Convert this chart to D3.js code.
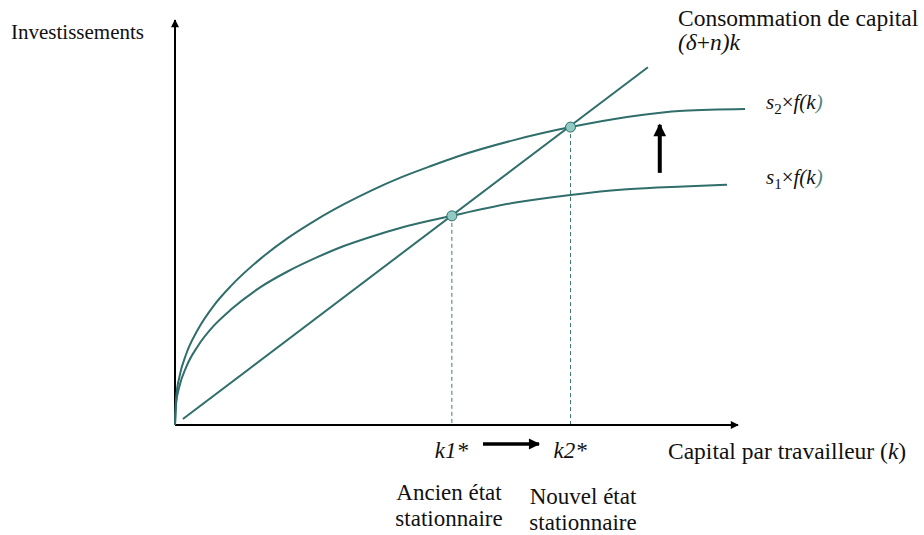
<!DOCTYPE html>
<html>
<head>
<meta charset="utf-8">
<script src="https://cdn.jsdelivr.net/npm/d3@7"></script>
<style>
  body { margin: 0; background: #fff; }
  svg text { font-family: "Liberation Serif", "Times New Roman", serif; fill: #111; }
</style>
</head>
<body>
<svg id="chart" width="924" height="535"></svg>
<script>
// Values (k = capital per worker, abstract units)
const s1K = [0, 0.02, 0.08, 0.2, 0.4, 0.7, 1, 1.5, 2, 2.5, 3, 3.5, 4, 4.9, 6, 7, 8, 9, 9.77];
const s1Values = [0, 0.38, 0.69, 1.03, 1.39, 1.77, 2.05, 2.43, 2.72, 2.96, 3.17, 3.34, 3.49, 3.7, 3.93, 4.07, 4.17, 4.22, 4.25];
const s2K = [0, 0.02, 0.08, 0.2, 0.4, 0.7, 1, 1.5, 2, 2.5, 3, 3.5, 4, 4.5, 5, 6, 7, 8, 9, 10.09];
const s2Values = [0, 0.48, 0.86, 1.26, 1.68, 2.13, 2.47, 2.93, 3.31, 3.63, 3.91, 4.16, 4.38, 4.57, 4.75, 5.04, 5.27, 5.45, 5.56, 5.59];
const lineK = [0.14, 8.37];
const lineY = [0.106, 6.33]; // (delta + n) k
const steadyK = [4.9, 7];
const steadyY = [3.7, 5.27];
const shiftArrow = { k: 8.58, from: 4.46, to: 5.31 };

const teal = '#2f6e6a';
const svg = d3.select('#chart');

const x = d3.scaleLinear().domain([0, 10]).range([175, 740]);
const y = d3.scaleLinear().domain([0, 7.2]).range([425, 18]);

// arrow markers
const defs = svg.append('defs');
defs.append('marker')
  .attr('id', 'axisHead').attr('viewBox', '0 0 10 10')
  .attr('refX', 9).attr('refY', 5)
  .attr('markerWidth', 4.5).attr('markerHeight', 4)
  .attr('markerUnits', 'strokeWidth').attr('orient', 'auto')
  .append('path').attr('d', 'M0,0 L10,5 L0,10 Z').attr('fill', '#000');
defs.append('marker')
  .attr('id', 'bigHead').attr('viewBox', '0 0 10 10')
  .attr('refX', 9).attr('refY', 5)
  .attr('markerWidth', 3.8).attr('markerHeight', 3.2)
  .attr('markerUnits', 'strokeWidth').attr('orient', 'auto')
  .append('path').attr('d', 'M0,0 L10,5 L0,10 Z').attr('fill', '#000');

// dashed drop lines to the axis
svg.selectAll('.drop')
  .data(steadyK)
  .enter()
  .append('line')
  .attr('x1', (d) => x(d)).attr('x2', (d) => x(d))
  .attr('y1', (d, i) => y(steadyY[i])).attr('y2', y(0))
  .attr('stroke', '#3f7773').attr('stroke-width', 1)
  .attr('stroke-dasharray', '4,3');

// axes
svg.append('line')
  .attr('x1', x(0)).attr('y1', y(0)).attr('x2', x(0)).attr('y2', y(7.2) + 2)
  .attr('stroke', '#000').attr('stroke-width', 2)
  .attr('marker-end', 'url(#axisHead)');
svg.append('line')
  .attr('x1', x(0)).attr('y1', y(0)).attr('x2', x(10) - 2).attr('y2', y(0))
  .attr('stroke', '#000').attr('stroke-width', 2)
  .attr('marker-end', 'url(#axisHead)');

// savings curves
const curve = d3.line()
  .x((d) => x(d[0]))
  .y((d) => y(d[1]))
  .curve(d3.curveMonotoneX);

[[s1K, s1Values], [s2K, s2Values]].forEach(([ks, vals]) => {
  svg.append('path')
    .datum(ks.map((k, i) => [k, vals[i]]))
    .attr('fill', 'none')
    .attr('stroke', teal)
    .attr('stroke-width', 2)
    .attr('d', curve);
});

// capital consumption line
svg.append('path')
  .datum(lineK.map((k, i) => [k, lineY[i]]))
  .attr('fill', 'none')
  .attr('stroke', teal)
  .attr('stroke-width', 2)
  .attr('d', d3.line().x((d) => x(d[0])).y((d) => y(d[1])));

// steady state points
svg.selectAll('.ss')
  .data(steadyK)
  .enter()
  .append('circle')
  .attr('cx', (d) => x(d))
  .attr('cy', (d, i) => y(steadyY[i]))
  .attr('r', 5)
  .attr('fill', '#8fcac4')
  .attr('stroke', teal)
  .attr('stroke-width', 1);

// shift arrows
svg.append('line')
  .attr('x1', x(shiftArrow.k)).attr('x2', x(shiftArrow.k))
  .attr('y1', y(shiftArrow.from)).attr('y2', y(shiftArrow.to))
  .attr('stroke', '#000').attr('stroke-width', 4)
  .attr('marker-end', 'url(#bigHead)');
svg.append('line')
  .attr('x1', 483).attr('x2', 539)
  .attr('y1', 444).attr('y2', 444)
  .attr('stroke', '#000').attr('stroke-width', 3.5)
  .attr('marker-end', 'url(#bigHead)');

// labels
svg.append('text').attr('x', 11).attr('y', 39)
  .style('font-size', '21px').text('Investissements');

svg.append('text').attr('x', 678).attr('y', 26)
  .style('font-size', '23.5px').text('Consommation de capital');
const dn = svg.append('text').attr('x', 678).attr('y', 50).style('font-size', '23.5px');
dn.append('tspan').style('font-style', 'italic').text('(δ');
dn.append('tspan').text('+');
dn.append('tspan').style('font-style', 'italic').text('n)k');

function sLabel(yPos, sub) {
  const t = svg.append('text').attr('x', 766).attr('y', yPos).style('font-size', '21px');
  t.append('tspan').style('font-style', 'italic').text('s');
  t.append('tspan').attr('dy', 5).style('font-size', '15px').text(sub);
  t.append('tspan').attr('dy', -5).text('×');
  t.append('tspan').style('font-style', 'italic').text('f(k');
  t.append('tspan').style('font-style', 'italic').style('fill', '#4f8480').text(')');
}
sLabel(109, '2');
sLabel(184, '1');

svg.append('text').attr('x', x(steadyK[0]) - 17).attr('y', 458)
  .style('font-size', '23px').style('font-style', 'italic').text('k1*');
svg.append('text').attr('x', x(steadyK[1]) - 17).attr('y', 458)
  .style('font-size', '23px').style('font-style', 'italic').text('k2*');

const cap = svg.append('text').attr('x', 668).attr('y', 459).style('font-size', '23.5px');
cap.append('tspan').text('Capital par travailleur (');
cap.append('tspan').style('font-style', 'italic').text('k');
cap.append('tspan').text(')');

[['Ancien état', 500], ['stationnaire', 526]].forEach(([t, yy]) => {
  svg.append('text').attr('x', 449).attr('y', yy).attr('text-anchor', 'middle')
    .style('font-size', '23px').text(t);
});
[['Nouvel état', 504], ['stationnaire', 530]].forEach(([t, yy]) => {
  svg.append('text').attr('x', 583).attr('y', yy).attr('text-anchor', 'middle')
    .style('font-size', '23px').text(t);
});
</script>
</body>
</html>
